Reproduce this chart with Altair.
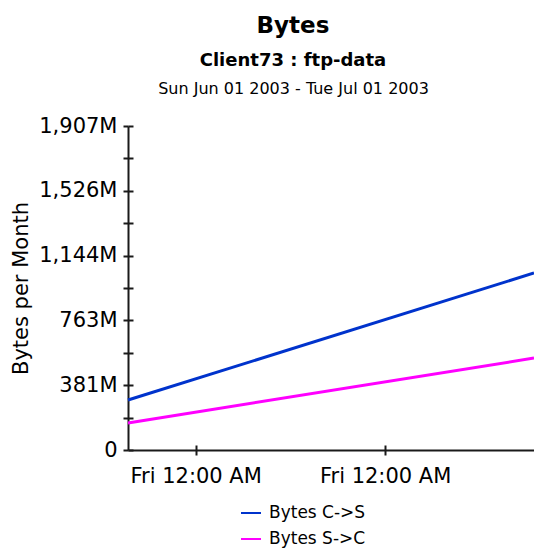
import altair as alt
import pandas as pd

# ---- data ----
SERIES = ["Bytes C->S", "Bytes S->C"]
DATES = ["2003-06-01T00:00:00", "2003-07-01T00:00:00"]
C2S = [294, 1042]      # millions of bytes per month
S2C = [159, 541]
COLORS = ["#0033CC", "#FF00FF"]
Y_TICKS = [0, 190.7, 381.4, 572.1, 762.8, 953.5, 1144.2, 1334.9, 1525.6, 1716.3, 1907]
X_TICKS = [(2003, 6, 6), (2003, 6, 20)]
TITLE = "Bytes"
SUBTITLE = "Client73 : ftp-data"
DATE_RANGE = "Sun Jun 01 2003 - Tue Jul 01 2003"
Y_TITLE = "Bytes per Month"

rows = []
for name, vals in zip(SERIES, [C2S, S2C]):
    for d, v in zip(DATES, vals):
        rows.append({"series": name, "date": d, "value": v})
df = pd.DataFrame(rows)

FONT = "DejaVu Sans"
AX = "#1a1a1a"

x_scale = alt.Scale(domain=[alt.DateTime(year=2003, month=6, date=1),
                            alt.DateTime(year=2003, month=7, date=1)])
y_scale = alt.Scale(domain=[0, 1907], nice=False)
x_vals = [alt.DateTime(year=y, month=m, date=d) for (y, m, d) in X_TICKS]

label_expr = ("round(datum.value / 190.7) % 2 == 0 ? "
              "(datum.value == 0 ? '0' : format(datum.value, ',.0f') + 'M') : ''")

base = alt.Chart(df)

lines = base.mark_line(strokeWidth=3).encode(
    x=alt.X("date:T", scale=x_scale,
            axis=alt.Axis(orient="bottom", values=x_vals, format="%a %I:%M %p",
                          formatType="time", title=None, grid=False,
                          tickSize=5, tickWidth=2, tickColor=AX,
                          domainColor=AX, domainWidth=2,
                          labelPadding=10, labelFontSize=21, labelColor="black",
                          labelFont=FONT, labelFlush=False)),
    y=alt.Y("value:Q", scale=y_scale,
            axis=alt.Axis(orient="left", values=Y_TICKS, labelExpr=label_expr,
                          title=Y_TITLE, grid=False,
                          tickSize=5, tickWidth=2, tickColor=AX,
                          domainColor=AX, domainWidth=2,
                          labelPadding=6, labelFontSize=21, labelColor="black",
                          labelFont=FONT, titleFont=FONT, titleFontSize=21,
                          titleFontWeight="normal", titleColor="black",
                          titlePadding=7)),
    color=alt.Color("series:N", scale=alt.Scale(domain=SERIES, range=COLORS),
                    legend=alt.Legend(title=None, orient="none", legendX=112, legendY=376,
                                      direction="vertical", symbolType="stroke",
                                      symbolSize=400, symbolStrokeWidth=2,
                                      labelFont=FONT, labelFontSize=17,
                                      labelColor="black", rowPadding=7,
                                      labelOffset=7)),
)

inner = base.mark_line(strokeOpacity=0).encode(
    x=alt.X("date:T", scale=x_scale,
            axis=alt.Axis(orient="bottom", values=x_vals, labels=False, domain=False,
                          title=None, grid=False, tickSize=5, tickWidth=2,
                          tickColor=AX, offset=-5)),
    y=alt.Y("value:Q", scale=y_scale,
            axis=alt.Axis(orient="left", values=Y_TICKS, labels=False, domain=False,
                          title=None, grid=False, tickSize=5, tickWidth=2,
                          tickColor=AX, offset=-5)),
    detail="series:N",
)

top = base.mark_line(strokeOpacity=0).encode(
    x=alt.X("date:T", scale=x_scale,
            axis=alt.Axis(orient="top", labels=False, ticks=False, domain=False,
                          grid=False, title=DATE_RANGE, titleFont=FONT,
                          titleFontSize=16, titleFontWeight="normal",
                          titleColor="black", titleX=165, titleY=-33,
                          titleBaseline="alphabetic", titleAlign="center")),
    y=alt.Y("value:Q", scale=y_scale, axis=None),
    detail="series:N",
)

chart = alt.layer(lines, inner, top).resolve_axis(
    x="independent", y="independent"
).properties(
    width=406, height=324,
    autosize=alt.AutoSizeParams(type="none"),
    padding={"left": 120, "top": 118, "right": 0, "bottom": 98},
    title=alt.TitleParams(text=TITLE, subtitle=SUBTITLE, font=FONT, fontSize=23,
                          fontWeight="bold", color="black", subtitleFont=FONT,
                          subtitleFontSize=18, subtitleFontWeight="bold",
                          subtitleColor="black", anchor="middle", dx=-38,
                          subtitlePadding=14, offset=10),
).configure(background="white").configure_view(stroke=None)

chart.save("out.html", embed_options={"renderer": "svg", "actions": False})
